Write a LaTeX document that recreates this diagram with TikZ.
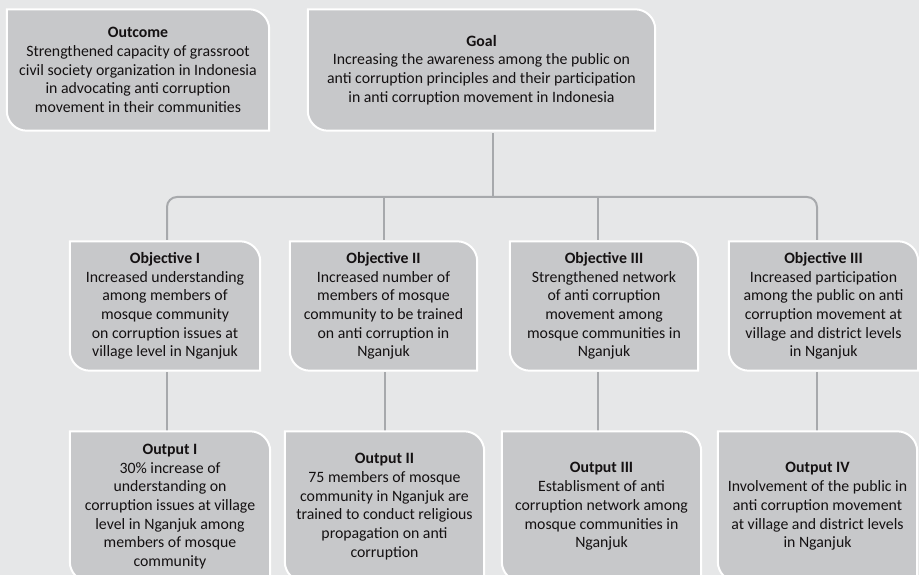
\documentclass[tikz,border=0pt]{standalone}
\usepackage{fontspec}
\setmainfont{Carlito}
\definecolor{canvas}{HTML}{E6E7E8}
\definecolor{boxfill}{HTML}{C7C8CA}
\definecolor{ink}{HTML}{141112}
\definecolor{wire}{HTML}{A7A9AC}
\pgfdeclarelayer{background}
\pgfsetlayers{background,main}
% panel outline: rounded top-right and bottom-left corners, square elsewhere
\newcommand\panelshape[1]{%
  \path[panel] (#1.north west) -- ([xshift=-20pt]#1.north east)
    arc[start angle=90,end angle=0,radius=20pt] -- (#1.south east)
    -- ([xshift=20pt]#1.south west)
    arc[start angle=270,end angle=180,radius=20pt] -- cycle;}
\begin{document}
\begin{tikzpicture}[x=1pt,y=1pt,
  panel/.style={fill=boxfill, draw=white, line width=2pt},
  box/.style 2 args={shape=rectangle, inner sep=0pt, align=center,
    minimum width=#1pt, minimum height=#2pt, text=ink,
    font=\fontsize{15.8}{18.7}\selectfont},
  conn/.style={draw=wire, line width=2pt}]
\useasboundingbox (0,0) rectangle (919,-575);
\clip (0,0) rectangle (919,-575);

% top row (text sits a little below each panel's centre)
\node[box={262}{121}] (outcome) at (138,-70)
  {\textbf{Outcome}\\Strengthened capacity of grassroot\\civil society organization in Indonesia\\in advocating anti corruption\\movement in their communities};
\node[box={347}{121}] (goal) at (481.5,-70)
  {\textbf{Goal}\\Increasing the awareness among the public on\\anti corruption principles and their participation\\in anti corruption movement in Indonesia};

% objectives
\node[box={190}{129}] (obj1) at (165,-306)
  {\textbf{Objective I}\\Increased understanding\\among members of\\mosque community\\on corruption issues at\\village level in Nganjuk};
\node[box={187}{129}] (obj2) at (383.5,-306)
  {\textbf{Objective II}\\Increased number of\\members of mosque\\community to be trained\\on anti corruption in\\Nganjuk};
\node[box={188}{129}] (obj3) at (604,-306)
  {\textbf{Objective III}\\Strengthened network\\of anti corruption\\movement among\\mosque communities in\\Nganjuk};
\node[box={189}{129}] (obj4) at (823.5,-306)
  {\textbf{Objective III}\\Increased participation\\among the public on anti\\corruption movement at\\village and district levels\\in Nganjuk};

% outputs
\node[box={200}{150}] (out1) at (170,-506.5)
  {\textbf{Output I}\\30\% increase of\\understanding on\\corruption issues at village\\level in Nganjuk among\\members of mosque\\community};
\node[box={199}{150}] (out2) at (384.5,-506.5)
  {\textbf{Output II}\\75 members of mosque\\community in Nganjuk are\\trained to conduct religious\\propagation on anti\\corruption};
\node[box={199}{150}] (out3) at (601.5,-506.5)
  {\textbf{Output III}\\Establisment of anti\\corruption network among\\mosque communities in\\Nganjuk};
\node[box={199}{150}] (out4) at (817.5,-506.5)
  {\textbf{Output IV}\\Involvement of the public in\\anti corruption movement\\at village and district levels\\in Nganjuk};

% branch points of the tree
\coordinate (gdrop) at (493,-197);
\coordinate (b1) at (167,-197);
\coordinate (b2) at (384,-197);
\coordinate (b3) at (598,-197);
\coordinate (b4) at (817,-197);
\coordinate (d2) at (385,-197);

\begin{pgfonlayer}{background}
  \fill[canvas] (0,0) rectangle (919,-575);
  % connectors
  \draw[conn] ([yshift=-2.5pt]gdrop |- goal.south) -- (gdrop);
  \draw[conn, rounded corners=10pt] ([yshift=1.5pt]b1 |- obj1.north) |- (b4) -- ([yshift=1.5pt]b4 |- obj4.north);
  \draw[conn] (b2) -- ([yshift=1.5pt]b2 |- obj2.north);
  \draw[conn] (b3) -- ([yshift=1.5pt]b3 |- obj3.north);
  \draw[conn] ([yshift=-1.5pt]b1 |- obj1.south) -- ([yshift=-3.5pt]b1 |- out1.north);
  \draw[conn] ([yshift=-1.5pt]d2 |- obj2.south) -- ([yshift=-3.5pt]d2 |- out2.north);
  \draw[conn] ([yshift=-1.5pt]b3 |- obj3.south) -- ([yshift=-3.5pt]b3 |- out3.north);
  \draw[conn] ([yshift=-1.5pt]b4 |- obj4.south) -- ([yshift=-3.5pt]b4 |- out4.north);
  % panels, raised back over their text blocks
  \foreach \n/\dy in {outcome/2.5,goal/2.5,obj1/1.5,obj2/1.5,obj3/1.5,obj4/1.5,out1/3.5,out2/3.5,out3/3.5,out4/3.5}
    {\begin{scope}[yshift=\dy pt]\panelshape{\n}\end{scope}}
\end{pgfonlayer}
\end{tikzpicture}
\end{document}
